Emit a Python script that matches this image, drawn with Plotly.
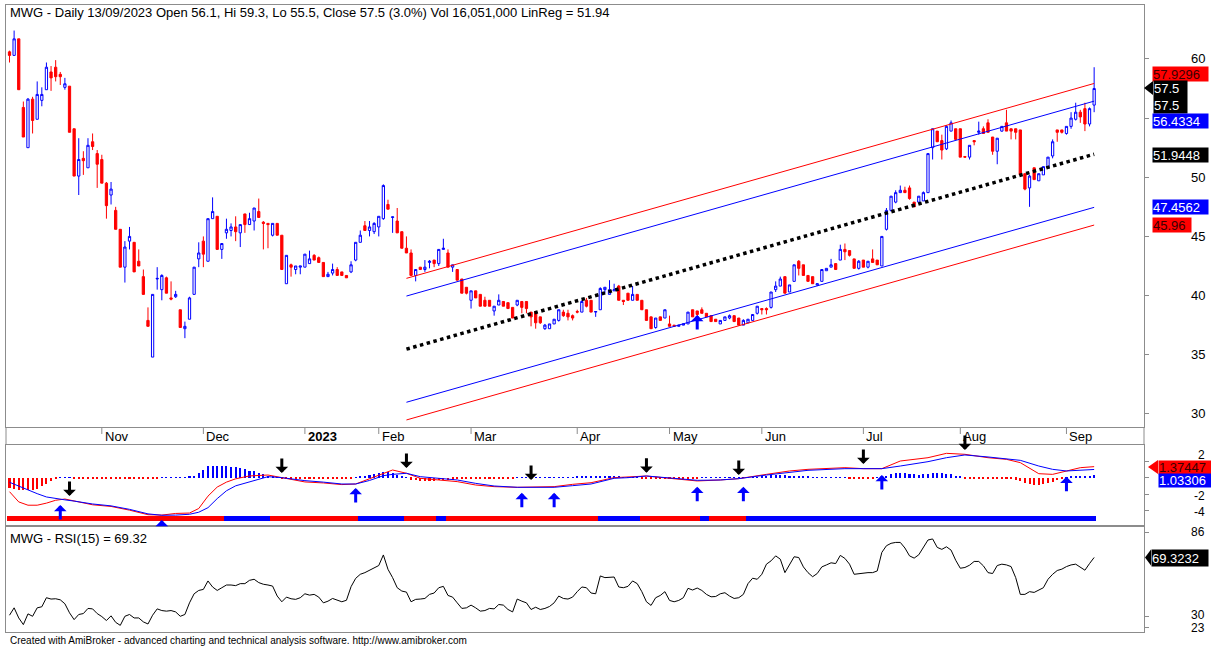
import plotly.graph_objects as go
import pandas as pd

W, H = 1211, 648
FONT = "Liberation Sans, Arial, Helvetica, sans-serif"
RED, BLUE, BLACK, FRAME = "#FF0000", "#0000FF", "#000000", "#8C8C8C"

# ---------------- data ----------------
holidays = ["2023-01-02", "2023-01-20", "2023-01-23", "2023-01-24", "2023-01-25",
            "2023-01-26", "2023-05-01", "2023-05-02", "2023-05-03", "2023-09-01", "2023-09-04"]
dates = [d.strftime("%Y-%m-%d") for d in pd.bdate_range("2022-10-04", "2023-09-13")
         if d.strftime("%Y-%m-%d") not in holidays]

open_p = [
    60.6, 60.3, 61.7, 55.9, 52.5, 56.6, 54.9, 56.5, 57.4, 58.9,
    59.3, 58.7, 57.6, 57.7, 54.1, 50.1, 51.6, 50.8, 53.0, 52.0,
    51.5, 49.5, 48.5, 47.2, 45.6, 42.4, 44.6, 44.5, 42.9, 41.6,
    37.9, 34.8, 41.4, 40.5, 41.5, 39.8, 39.9, 38.8, 37.2, 38.0,
    40.1, 43.1, 44.6, 42.9, 46.5, 46.7, 43.9, 45.3, 45.5, 45.8,
    45.3, 46.9, 46.0, 46.3, 47.1, 46.2, 46.1, 45.1, 46.1, 45.1,
    41.0, 42.6, 42.2, 42.4, 42.4, 42.7, 43.4, 43.2, 42.8, 41.6,
    41.9, 42.2, 42.0, 41.7, 42.0, 43.0, 44.5, 45.9, 45.5, 45.4,
    45.8, 46.5, 47.7, 46.6, 46.3, 45.4, 44.0, 43.6, 41.7, 42.4,
    42.2, 42.8, 43.0, 42.7, 43.9, 43.6, 42.4, 42.2, 41.4, 40.7,
    39.6, 40.4, 40.1, 39.6, 39.6, 38.7, 39.2, 39.5, 39.4, 39.0,
    39.2, 39.5, 39.5, 38.6, 38.6, 38.2, 37.2, 37.2, 37.6, 37.9,
    38.6, 38.5, 38.3, 38.65, 38.6, 39.6, 39.6, 38.6, 38.8, 40.5,
    40.1, 40.4, 40.8, 39.6, 40.2, 39.6, 40.1, 39.6, 38.8, 38.2,
    37.3, 38.2, 38.1, 37.6, 37.5, 37.4, 37.5, 37.6, 38.8, 38.7,
    38.8, 38.5, 38.3, 38.0, 37.6, 37.9, 38.1, 38.3, 38.1, 37.5,
    37.7, 37.9, 38.5, 38.9, 38.9, 39.0, 40.5, 40.8, 41.6, 40.3,
    41.2, 42.9, 42.6, 41.7, 41.6, 40.9, 41.2, 42.1, 42.4, 42.7,
    43.0, 43.9, 43.8, 43.1, 42.3, 43.0, 42.4, 43.1, 43.0, 42.5,
    45.6, 47.2, 47.9, 48.7, 48.9, 49.1, 47.9, 47.9, 48.0, 48.7,
    52.5, 53.9, 53.1, 52.4, 53.9, 54.1, 54.1, 51.75, 51.7, 53.1,
    53.8, 54.1, 54.6, 53.4, 52.2, 53.9, 54.6, 54.1, 54.1, 54.0,
    50.3, 49.1, 50.8, 49.7, 50.2, 50.8, 51.8, 54.0, 54.0, 53.7,
    54.3, 54.9, 55.5, 55.8, 54.5, 56.1]
high_p = [
    60.7, 62.4, 61.7, 56.4, 56.7, 56.8, 58.1, 57.6, 59.7, 59.4,
    59.9, 58.9, 58.4, 57.7, 54.1, 53.3, 52.2, 53.3, 53.7, 52.3,
    51.9, 49.6, 49.6, 47.5, 45.6, 44.6, 45.8, 44.5, 43.9, 42.2,
    39.0, 40.1, 42.4, 41.8, 41.6, 41.2, 40.4, 38.8, 37.8, 39.9,
    42.4, 44.5, 45.0, 46.5, 48.3, 46.7, 44.4, 46.5, 46.1, 46.7,
    46.0, 46.9, 47.0, 47.4, 48.2, 46.3, 46.1, 46.1, 46.1, 45.1,
    43.4, 42.7, 42.5, 42.5, 43.5, 43.8, 43.5, 43.3, 42.8, 42.0,
    42.7, 42.4, 42.0, 41.7, 42.9, 44.5, 45.5, 46.3, 46.3, 46.2,
    46.7, 49.4, 48.1, 46.6, 47.4, 45.4, 45.0, 43.9, 42.2, 42.4,
    43.0, 43.0, 43.0, 43.9, 44.8, 43.9, 42.6, 42.2, 41.4, 40.7,
    40.4, 40.4, 40.1, 39.9, 39.6, 39.1, 40.1, 39.5, 39.4, 39.0,
    39.6, 39.5, 39.5, 38.6, 38.7, 38.2, 37.6, 37.6, 38.0, 38.8,
    38.8, 38.8, 38.4, 38.8, 39.6, 39.8, 39.6, 38.65, 40.7, 40.7,
    41.3, 41.0, 40.9, 39.6, 40.2, 40.8, 40.1, 39.6, 38.8, 38.2,
    38.1, 38.2, 38.8, 38.3, 37.5, 37.5, 37.6, 38.6, 38.8, 38.7,
    39.0, 38.5, 38.3, 38.0, 37.9, 38.2, 38.4, 38.3, 38.1, 38.0,
    38.0, 38.4, 39.1, 38.9, 39.0, 40.3, 41.2, 41.6, 41.6, 40.9,
    42.6, 43.0, 42.6, 41.7, 41.6, 41.0, 42.2, 42.3, 43.1, 42.7,
    44.3, 44.4, 43.8, 43.1, 43.0, 43.0, 42.9, 43.9, 43.0, 45.0,
    47.4, 48.4, 48.9, 49.3, 49.2, 49.3, 47.9, 48.4, 48.8, 52.0,
    54.1, 53.9, 53.6, 54.4, 54.8, 54.1, 54.1, 51.8, 52.7, 53.1,
    54.7, 54.3, 54.9, 53.4, 53.3, 54.3, 55.7, 54.1, 54.1, 54.0,
    50.3, 50.2, 50.8, 50.3, 50.9, 51.7, 53.2, 54.0, 54.0, 54.3,
    55.5, 56.3, 55.7, 56.3, 55.9, 59.3]
low_p = [
    59.7, 60.3, 57.4, 53.4, 52.5, 53.7, 54.9, 56.0, 57.4, 57.3,
    58.1, 57.8, 57.4, 53.8, 50.1, 48.5, 50.2, 50.8, 52.3, 49.1,
    49.5, 46.5, 47.7, 45.6, 42.4, 41.1, 43.9, 42.0, 42.5, 40.1,
    37.4, 34.8, 40.5, 39.6, 40.2, 39.6, 39.8, 37.3, 36.4, 38.0,
    40.1, 42.4, 42.4, 42.9, 46.5, 43.9, 43.1, 44.8, 45.0, 44.6,
    44.1, 45.3, 46.0, 45.5, 46.6, 43.9, 44.0, 45.0, 45.1, 42.2,
    41.0, 41.6, 41.8, 41.8, 42.4, 42.7, 43.0, 42.8, 41.6, 41.6,
    41.7, 41.7, 41.7, 41.5, 41.9, 42.9, 44.5, 45.5, 45.0, 45.2,
    45.0, 46.4, 47.3, 45.3, 45.3, 44.0, 43.6, 41.7, 41.2, 42.2,
    42.0, 42.3, 42.4, 42.5, 43.9, 42.4, 42.0, 41.3, 40.2, 40.1,
    38.9, 39.8, 39.1, 39.1, 39.1, 38.3, 39.2, 39.1, 38.9, 38.1,
    39.1, 38.5, 38.5, 37.4, 37.2, 37.6, 37.1, 37.2, 37.6, 37.8,
    38.2, 37.9, 37.9, 38.5, 38.6, 39.0, 38.6, 38.2, 38.8, 40.2,
    40.1, 40.4, 39.6, 39.2, 39.6, 39.6, 39.6, 38.8, 37.9, 37.2,
    37.2, 37.9, 38.1, 37.4, 37.4, 37.4, 37.5, 37.6, 38.2, 37.8,
    38.5, 38.2, 37.8, 37.8, 37.6, 37.9, 38.0, 37.8, 37.5, 37.5,
    37.7, 37.9, 38.4, 38.4, 38.4, 38.9, 40.3, 40.8, 40.2, 40.3,
    41.2, 41.7, 41.7, 41.2, 41.0, 40.8, 41.2, 42.1, 42.4, 42.2,
    43.0, 43.0, 43.3, 42.3, 42.2, 42.4, 42.3, 42.8, 42.6, 42.5,
    45.5, 47.1, 47.8, 48.7, 48.7, 48.1, 47.5, 47.8, 48.0, 48.7,
    51.5, 53.0, 51.5, 52.3, 53.9, 53.2, 51.7, 51.7, 51.5, 52.7,
    53.6, 53.7, 53.8, 51.9, 51.1, 53.85, 53.9, 53.2, 53.2, 50.2,
    48.9, 47.5, 49.8, 49.7, 50.2, 50.8, 51.6, 53.0, 53.7, 53.6,
    54.1, 54.8, 54.6, 53.9, 54.3, 55.5]
close_p = [
    60.3, 61.7, 57.4, 53.4, 56.6, 54.8, 57.0, 57.0, 59.3, 58.4,
    58.5, 58.5, 57.9, 53.8, 50.1, 51.5, 51.4, 52.7, 52.6, 51.1,
    49.5, 47.6, 49.0, 45.6, 42.4, 44.1, 45.0, 42.0, 42.5, 40.1,
    37.4, 40.1, 41.45, 41.7, 40.2, 39.7, 40.1, 37.3, 37.4, 39.8,
    42.4, 43.6, 43.5, 46.5, 47.1, 43.9, 44.4, 45.6, 45.8, 45.4,
    46.0, 46.0, 46.5, 47.4, 46.6, 46.1, 46.0, 46.1, 45.1, 42.2,
    43.4, 42.4, 42.5, 42.5, 43.5, 43.1, 43.0, 42.8, 41.6, 41.8,
    42.2, 41.7, 41.7, 41.5, 42.6, 44.5, 45.1, 45.5, 45.8, 46.1,
    46.7, 49.3, 47.3, 46.65, 45.3, 44.0, 43.6, 41.7, 42.2, 42.2,
    42.4, 42.9, 42.7, 43.9, 44.0, 42.4, 42.6, 41.3, 40.2, 40.2,
    40.4, 39.8, 39.1, 39.1, 39.1, 39.1, 39.6, 39.1, 38.9, 38.1,
    39.6, 39.0, 38.9, 38.2, 37.7, 37.7, 37.5, 37.6, 38.0, 38.8,
    38.3, 38.2, 38.1, 38.6, 39.5, 39.1, 38.6, 38.65, 40.6, 40.7,
    40.5, 40.5, 39.6, 39.5, 39.6, 40.1, 39.6, 38.8, 37.9, 37.2,
    38.1, 37.9, 38.8, 37.4, 37.4, 37.5, 37.6, 38.6, 38.2, 38.4,
    38.5, 38.2, 37.8, 37.8, 37.9, 38.2, 38.3, 37.8, 37.5, 37.9,
    38.0, 38.4, 39.1, 38.8, 38.8, 40.3, 40.8, 41.4, 40.2, 40.9,
    42.6, 42.3, 41.7, 41.2, 41.0, 41.0, 42.2, 42.3, 42.6, 42.2,
    43.9, 43.7, 43.4, 42.3, 42.9, 42.4, 42.9, 42.8, 42.6, 45.0,
    47.2, 48.4, 48.7, 48.9, 48.7, 48.2, 47.5, 48.4, 48.7, 52.0,
    54.1, 53.0, 52.3, 54.3, 54.6, 53.2, 51.7, 51.7, 52.7, 53.0,
    53.9, 53.7, 53.8, 52.2, 53.3, 54.3, 53.9, 53.9, 53.8, 50.2,
    49.0, 50.1, 49.8, 50.3, 50.9, 51.7, 53.0, 53.8, 53.8, 54.3,
    55.0, 55.5, 55.1, 54.5, 55.8, 57.5]

# Linear regression channel (150 bars, ends on the last bar)
lr_start_date = "2023-02-09"
lr_start_value = 35.47
lr_end_value = 51.9448
lr_inner_band = 4.4886
lr_outer_band = 5.9848

# MACD pane (line vertices)
macd_bars = [0, 2, 4, 6, 8, 10, 12, 14, 18, 22,
             26, 30, 33, 36, 39, 41, 43, 45, 47, 49,
             52, 56, 59, 64, 68, 72, 75, 78, 81, 83,
             86, 89, 93, 97, 101, 105, 110, 114, 118, 122,
             126, 131, 134, 138, 143, 149, 154, 158, 164, 169,
             173, 181, 185, 189, 193, 199, 203, 207, 212, 216,
             219, 223, 226, 229, 232, 235]
macd_line = [-1.66, -2.9, -3.3, -3.3, -3.05, -2.7, -2.55, -2.8, -3.25, -3.45,
             -3.9, -4.45, -4.5, -4.3, -4.25, -3.7, -2.2, -1.1, -0.5, -0.1,
             0.25, 0.36, 0.04, -0.48, -0.6, -0.8, -0.73, -0.1, 0.57, 0.97,
             0.57, -0.04, -0.24, -0.44, -0.85, -1.05, -1.13, -1.13, -1.05, -0.77,
             -0.57, 0.04, 0.16, 0.24, -0.04, -0.36, -0.24, -0.08, 0.44, 0.85,
             1.05, 1.25, 1.13, 1.13, 2.06, 2.46, 2.99, 2.87, 2.46, 2.26,
             1.86, 0.52, 0.44, 0.85, 1.25, 1.37447]
signal_line = [-0.52, -1.0, -1.4, -1.9, -2.3, -2.52, -2.65, -2.8, -3.15, -3.38,
               -3.8, -4.35, -4.52, -4.5, -4.4, -4.15, -3.6, -2.5, -1.55, -0.95,
               -0.44, 0.16, 0.04, -0.32, -0.5, -0.73, -0.73, -0.3, 0.28, 0.44,
               0.57, 0.16, -0.04, -0.24, -0.65, -0.97, -1.13, -1.13, -1.13, -0.93,
               -0.73, -0.04, 0.04, 0.24, 0.04, -0.28, -0.24, -0.08, 0.36, 0.65,
               0.93, 1.13, 1.13, 1.13, 1.45, 1.98, 2.46, 2.79, 2.55, 2.34,
               2.14, 1.45, 1.05, 0.85, 0.97, 1.03306]
macd_hist = [
    -1.2, -1.3, -1.4, -1.5, -1.5, -1.4, -1.3, -1.0, -0.7, -0.4,
    -0.15, 0.1, 0.1, 0.05, -0.05, -0.1, -0.1, -0.1, -0.1, -0.1,
    -0.1, -0.1, -0.1, -0.1, -0.15, -0.1, -0.1, -0.15, -0.15, -0.15,
    -0.15, -0.1, -0.05, 0.05, 0.1, 0.1, 0.1, 0.1, 0.1, 0.15,
    0.3, 0.6, 1.0, 1.4, 1.5, 1.5, 1.4, 1.4, 1.3, 1.3,
    1.2, 1.1, 0.9, 0.8, 0.6, 0.45, 0.3, 0.2, 0.1, -0.05,
    -0.1, -0.1, -0.1, -0.1, -0.1, -0.1, -0.1, -0.1, -0.1, -0.1,
    -0.1, -0.1, -0.1, -0.1, -0.05, 0.1, 0.2, 0.3, 0.4, 0.5,
    0.6, 0.7, 0.7, 0.6, 0.4, 0.25, 0.05, -0.2, -0.3, -0.35,
    -0.4, -0.4, -0.35, -0.3, -0.3, -0.25, -0.2, -0.1, -0.1, -0.1,
    -0.1, -0.1, -0.1, -0.1, -0.1, -0.1, -0.1, -0.1, -0.1, -0.05,
    0.02, 0.02, 0.02, 0.02, 0.02, 0.02, 0.02, 0.02, 0.02, 0.1,
    0.1, 0.1, 0.1, 0.15, 0.15, 0.2, 0.2, 0.25, 0.3, 0.3,
    0.25, 0.2, 0.15, 0.1, 0.1, 0.05, 0.02, -0.05, -0.1, -0.1,
    -0.1, -0.1, -0.1, -0.1, -0.1, -0.05, -0.05, -0.05, -0.05, -0.02,
    0.02, 0.02, 0.02, 0.02, 0.02, 0.02, 0.02, 0.02, 0.02, 0.1,
    0.1, 0.1, 0.1, 0.15, 0.3, 0.35, 0.4, 0.4, 0.35, 0.3,
    0.3, 0.25, 0.2, 0.15, 0.1, 0.1, 0.1, 0.1, 0.1, 0.1,
    0.1, 0.05, -0.05, -0.1, -0.1, -0.1, -0.1, -0.05, 0.02, 0.05,
    0.3, 0.45, 0.6, 0.6, 0.55, 0.5, 0.45, 0.4, 0.45, 0.5,
    0.55, 0.6, 0.55, 0.5, 0.45, 0.3, 0.15, -0.05, -0.1, -0.1,
    -0.1, -0.1, -0.1, -0.15, -0.15, -0.1, -0.1, -0.15, -0.2, -0.35,
    -0.55, -0.7, -0.8, -0.85, -0.75, -0.6, -0.45, -0.3, -0.15, 0.05,
    0.15, 0.2, 0.25, 0.3, 0.3, 0.34]
sell_bars = [13, 59, 86, 113, 138, 158, 185, 207]
sell_level = [-2.18, 0.6, 1.2, -0.24, 0.64, 0.36, 1.7, 3.4]
buy_bars = [11, 33, 75, 111, 118, 149, 159, 189, 229]
buy_level = [-3.27, -5.1, -1.2, -1.8, -1.8, -1.05, -1.05, 0.36, 0.16]
price_buy_bar = 149
price_buy_level = 38.36
ribbon_colors = ["red", "blue", "red", "blue", "red", "blue", "red", "blue", "red", "blue", "red", "blue"]
ribbon_lengths = [47, 10, 19, 10, 7, 2, 33, 9, 13, 2, 8, 76]

# RSI(15)
rsi = [
    31.1, 36.0, 29.3, 24.9, 32.0, 30.4, 36.0, 36.7, 42.7, 41.8,
    42.0, 41.3, 38.7, 32.7, 28.2, 31.6, 32.2, 35.6, 35.3, 32.2,
    30.2, 27.6, 30.7, 26.4, 24.4, 30.4, 31.6, 29.3, 29.3, 26.7,
    25.3, 31.1, 35.3, 34.2, 33.8, 34.2, 33.3, 30.4, 31.6, 39.3,
    45.3, 47.5, 48.2, 53.8, 49.8, 47.5, 49.3, 51.1, 51.1, 50.7,
    52.0, 52.0, 54.2, 54.9, 52.7, 51.6, 51.1, 50.4, 43.8, 40.0,
    43.1, 42.0, 41.6, 42.7, 45.3, 44.4, 44.9, 43.1, 39.3, 40.4,
    42.2, 40.9, 40.0, 41.0, 50.0, 55.5, 58.2, 59.3, 60.9, 62.0,
    64.0, 71.0, 61.5, 56.0, 49.3, 47.1, 46.4, 40.0, 41.6, 41.8,
    42.2, 44.9, 45.8, 49.3, 50.2, 44.2, 43.1, 39.3, 35.6, 36.0,
    37.8, 36.0, 33.8, 34.2, 35.6, 35.3, 38.2, 37.8, 34.9, 33.3,
    41.8, 40.4, 39.3, 34.9, 36.4, 34.9, 35.6, 36.9, 39.3, 43.8,
    42.2, 41.8, 43.1, 46.7, 49.8, 49.3, 45.8, 45.3, 57.1, 56.0,
    56.0, 56.4, 49.8, 49.3, 50.2, 53.8, 52.0, 46.7, 40.0, 37.6,
    42.7, 44.2, 46.7, 40.9, 40.0, 40.9, 42.7, 48.9, 47.8, 49.1,
    47.5, 44.9, 43.3, 43.5, 45.3, 46.0, 43.8, 42.2, 42.7, 44.9,
    52.0, 55.6, 54.9, 58.2, 64.9, 67.1, 70.4, 68.2, 59.3, 64.9,
    69.8, 69.3, 63.1, 59.3, 56.6, 58.7, 63.1, 64.4, 65.8, 65.3,
    70.7, 68.7, 64.9, 58.2, 58.7, 59.1, 59.3, 59.3, 60.4, 72.7,
    77.1, 78.7, 79.3, 79.3, 75.6, 70.4, 68.9, 71.1, 75.6, 80.9,
    81.6, 76.0, 74.7, 76.4, 74.2, 67.5, 62.2, 62.7, 64.2, 66.7,
    66.7, 63.8, 59.3, 58.7, 64.0, 64.9, 64.4, 63.3, 56.0, 44.9,
    44.9, 46.7, 46.2, 48.0, 49.3, 54.9, 58.2, 60.7, 61.6, 63.3,
    64.4, 64.9, 63.1, 60.9, 65.3, 69.3232]

price_ticks = [30, 35, 40, 45, 50, 55, 60]
price_tick_labels = ["30", "35", "40", "45", "50", "", "60"]   # 55 is hidden behind a value label
macd_ticks = [2, 0, -2, -4]
macd_tick_labels = ["2", "", "-2", "-4"]                         # 0 is hidden behind a value label
rsi_ticks = [86, 30, 23]
month_keys = ["2022-11", "2022-12", "2023-01", "2023-02", "2023-03", "2023-04",
              "2023-05", "2023-06", "2023-07", "2023-08", "2023-09"]
month_labels = ["Nov", "Dec", "<b>2023</b>", "Feb", "Mar", "Apr",
                "May", "Jun", "Jul", "Aug", "Sep"]

# ---------------- helpers ----------------
bars = list(range(len(close_p)))


def fx(px):
    return px / W


def fy(py):
    return 1 - py / H


X_DOM = [fx(6), fx(1144)]
X_RANGE = [-0.76, 245.8]

fig = go.Figure()

# ---------------- price pane ----------------
fig.add_trace(go.Candlestick(
    x=bars, open=open_p, high=high_p, low=low_p, close=close_p,
    increasing=dict(line=dict(color=BLUE, width=1), fillcolor="#FFFFFF"),
    decreasing=dict(line=dict(color=RED, width=1), fillcolor=RED),
    whiskerwidth=0, xaxis="x", yaxis="y", showlegend=False, hoverinfo="skip"))

lr_i0 = dates.index(lr_start_date)
lr_i1 = bars[-1]
for off, col in [(lr_outer_band, RED), (lr_inner_band, BLUE), (-lr_inner_band, BLUE), (-lr_outer_band, RED)]:
    fig.add_trace(go.Scatter(x=[lr_i0, lr_i1], y=[lr_start_value + off, lr_end_value + off],
                             mode="lines", line=dict(color=col, width=1),
                             xaxis="x", yaxis="y", showlegend=False, hoverinfo="skip"))
fig.add_trace(go.Scatter(x=[lr_i0, lr_i1], y=[lr_start_value, lr_end_value], mode="lines",
                         line=dict(color=BLACK, width=3.5, dash="dot"),
                         xaxis="x", yaxis="y", showlegend=False, hoverinfo="skip"))

# ---------------- MACD pane ----------------
fig.add_trace(go.Bar(x=bars, y=macd_hist, width=0.45,
                     marker=dict(color=[BLUE if v >= 0 else RED for v in macd_hist], line=dict(width=0)),
                     xaxis="x2", yaxis="y2", showlegend=False, hoverinfo="skip"))
rib_cols = []
for c, n in zip(ribbon_colors, ribbon_lengths):
    rib_cols += [RED if c == "red" else BLUE] * n
fig.add_trace(go.Bar(x=bars, y=[0.6] * len(bars), base=-5.21, width=1.0,
                     marker=dict(color=rib_cols, line=dict(width=0)),
                     xaxis="x2", yaxis="y2", showlegend=False, hoverinfo="skip"))
fig.add_trace(go.Scatter(x=macd_bars, y=macd_line, mode="lines", line=dict(color=RED, width=1),
                         xaxis="x2", yaxis="y2", showlegend=False, hoverinfo="skip"))
fig.add_trace(go.Scatter(x=macd_bars, y=signal_line, mode="lines", line=dict(color=BLUE, width=1),
                         xaxis="x2", yaxis="y2", showlegend=False, hoverinfo="skip"))

# ---------------- RSI pane ----------------
fig.add_trace(go.Scatter(x=bars, y=rsi, mode="lines", line=dict(color=BLACK, width=1),
                         xaxis="x3", yaxis="y3", showlegend=False, hoverinfo="skip"))

# ---------------- axes ----------------
axx = dict(range=X_RANGE, domain=X_DOM, showgrid=False, zeroline=False, showticklabels=False,
           ticks="", showline=True, mirror=True, linecolor=FRAME, linewidth=1, fixedrange=True)
axy = dict(side="right", showgrid=False, zeroline=False, showline=True, mirror=True,
           linecolor=FRAME, linewidth=1, ticks="outside", ticklen=4, tickcolor=FRAME,
           showticklabels=False, fixedrange=True)
fig.update_layout(
    width=W, height=H, autosize=False,
    margin=dict(l=0, r=0, t=0, b=0),
    paper_bgcolor="white", plot_bgcolor="white",
    font=dict(family=FONT, size=13, color=BLACK),
    barmode="overlay", bargap=0, boxgap=0.3,
    showlegend=False, hovermode=False,
    xaxis=dict(axx, anchor="y", rangeslider=dict(visible=False)),
    xaxis2=dict(axx, anchor="y2"),
    xaxis3=dict(axx, anchor="y3"),
    yaxis=dict(axy, anchor="x", domain=[fy(427), fy(5)], range=[28.89, 64.56], tickvals=price_ticks),
    yaxis2=dict(axy, anchor="x2", domain=[fy(525), fy(445)], range=[-5.7, 4.0], tickvals=macd_ticks),
    yaxis3=dict(axy, anchor="x3", domain=[fy(632), fy(527)], range=[20, 89.5], tickvals=rsi_ticks),
)

ann = []
shapes = []

# titles / footer
ann.append(dict(xref="paper", yref="paper", x=fx(8), y=fy(13), xanchor="left", yanchor="middle",
                showarrow=False, font=dict(size=13, color=BLACK),
                text=f"MWG - Daily 13/09/2023 Open {open_p[-1]}, Hi {high_p[-1]}, Lo {low_p[-1]}, "
                     f"Close {close_p[-1]} (3.0%) Vol 16,051,000 LinReg = {lr_end_value:.2f}"))
ann.append(dict(xref="paper", yref="paper", x=fx(8), y=fy(538), xanchor="left", yanchor="middle",
                showarrow=False, font=dict(size=13, color=BLACK),
                text=f"MWG - RSI(15) = {rsi[-1]:.2f}"))
ann.append(dict(xref="paper", yref="paper", x=fx(8), y=fy(640), xanchor="left", yanchor="middle",
                showarrow=False, font=dict(size=10, color=BLACK),
                text="Created with AmiBroker - advanced charting and technical analysis software. http://www.amibroker.com"))

# month labels in the date strip
for key, lab in zip(month_keys, month_labels):
    mi = next(i for i, d in enumerate(dates) if d.startswith(key))
    ann.append(dict(xref="x", yref="paper", x=mi, y=fy(436), xanchor="left", yanchor="middle",
                    xshift=1, showarrow=False, text=lab, font=dict(size=13, color=BLACK)))
    shapes.append(dict(type="line", xref="x", yref="paper", x0=mi, x1=mi, y0=fy(427), y1=fy(434),
                       line=dict(color=FRAME, width=1)))

# strip side borders
for xp in (6, 1144):
    shapes.append(dict(type="line", xref="paper", yref="paper", x0=fx(xp), x1=fx(xp),
                       y0=fy(427), y1=fy(445), line=dict(color=FRAME, width=1)))

# right axis tick labels
for v, t in zip(price_ticks, price_tick_labels):
    if t:
        ann.append(dict(xref="paper", yref="y", x=fx(1207), y=v, xanchor="right", yanchor="middle",
                        showarrow=False, text=t, font=dict(size=13, color=BLACK)))
for v, t in zip(macd_ticks, macd_tick_labels):
    if t:
        ann.append(dict(xref="paper", yref="y2", x=fx(1207), y=v, xanchor="right", yanchor="middle",
                        yshift={2: 6, -2: -2, -4: -1}[v], showarrow=False, text=t,
                        font=dict(size=12, color=BLACK)))
for v in rsi_ticks:
    ann.append(dict(xref="paper", yref="y3", x=fx(1207), y=v, xanchor="right", yanchor="middle",
                    yshift={86: 0, 30: 2, 23: -1}[v], showarrow=False, text=str(v),
                    font=dict(size=12, color=BLACK)))


def box(text, left, yc, bg, fg, w, h=14):
    ann.append(dict(xref="paper", yref="paper", x=fx(left), y=fy(yc), xanchor="left", yanchor="middle",
                    showarrow=False, text=text, bgcolor=bg, font=dict(size=13, color=fg),
                    width=w, height=h, borderpad=0, align="left"))


def pointer(tip_x, base_x, yc, half, col):
    shapes.append(dict(type="path", xref="paper", yref="paper",
                       path=f"M {fx(tip_x)},{fy(yc)} L {fx(base_x)},{fy(yc - half)} L {fx(base_x)},{fy(yc + half)} Z",
                       fillcolor=col, line=dict(width=0)))


def fmt(v):
    return f"{v:.4f}".rstrip("0").rstrip(".")


box(fmt(lr_end_value + lr_outer_band), 1152, 73.5, RED, "#3A0000", 55)
box(f"{close_p[-1]}<br>{close_p[-1]}", 1153, 97, BLACK, "white", 33, 32)
pointer(1144, 1153, 88, 7, BLACK)
box(fmt(lr_end_value + lr_inner_band), 1152, 120.5, BLUE, "white", 55)
box(fmt(lr_end_value), 1152, 155, BLACK, "white", 55)
box(fmt(lr_end_value - lr_inner_band), 1152, 207, BLUE, "white", 55)
box(fmt(lr_end_value - lr_outer_band), 1152, 225, RED, "#3A0000", 38)

box(f"{macd_line[-1]:.5f}", 1158, 467, RED, "#3A0000", 52, 13)
pointer(1148, 1158, 467, 7, RED)
box(f"{signal_line[-1]:.5f}", 1158, 480.5, BLUE, "white", 52, 13)

box(f"{rsi[-1]:.4f}", 1151, 557.5, BLACK, "white", 56, 16)
pointer(1145, 1151, 557.5, 8, BLACK)

# signal arrows
ARW = dict(showarrow=True, text="", arrowhead=1, arrowsize=0.7, arrowwidth=3, standoff=0, ax=0)
for b, v in zip(sell_bars, sell_level):
    ann.append(dict(ARW, xref="x2", yref="y2", x=b, y=v, ay=-16, arrowcolor=BLACK))
for b, v in zip(buy_bars, buy_level):
    ann.append(dict(ARW, xref="x2", yref="y2", x=b, y=v, ay=16 if v > -5 else 5, arrowcolor=BLUE))
ann.append(dict(ARW, xref="x", yref="y", x=price_buy_bar, y=price_buy_level, ay=16, arrowcolor=BLUE))

fig.update_layout(annotations=ann, shapes=shapes)
fig.write_html("out.html", config={"displayModeBar": False})
